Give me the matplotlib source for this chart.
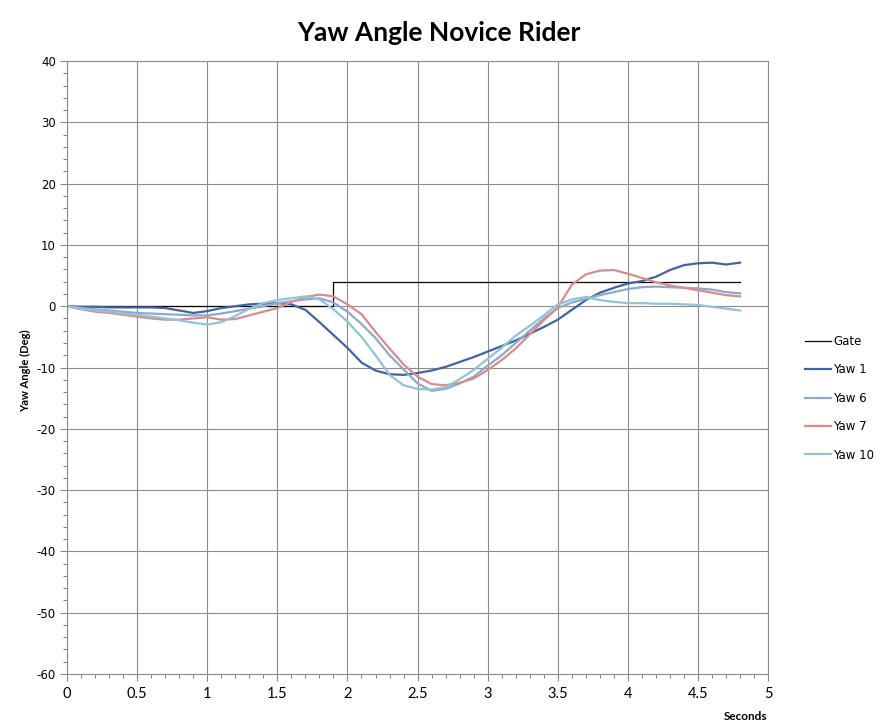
import matplotlib
matplotlib.use("Agg")
import matplotlib.pyplot as plt
import numpy as np
from matplotlib.ticker import MultipleLocator

t = [round(0.1 * i, 1) for i in range(49)]

yaw1 = [0, -0.1, -0.1, -0.2, -0.2, -0.2, -0.2, -0.3, -0.7, -1.1,
        -0.8, -0.3, 0.0, 0.3, 0.4, 0.5, 0.3, -0.6, -2.6, -4.7,
        -6.8, -9.2, -10.5, -11.1, -11.2, -10.9, -10.5, -9.9, -9.1, -8.3,
        -7.4, -6.5, -5.6, -4.5, -3.4, -2.2, -0.6, 1.0, 2.2, 3.0,
        3.7, 4.1, 4.8, 5.9, 6.7, 7.0, 7.1, 6.8, 7.1]

yaw6 = [0, -0.3, -0.5, -0.7, -0.9, -1.1, -1.2, -1.3, -1.4, -1.5,
        -1.5, -1.2, -0.8, -0.4, 0.0, 0.5, 0.8, 1.1, 1.3, 0.6,
        -0.9, -2.9, -5.2, -8.0, -10.3, -12.6, -13.8, -13.5, -12.6, -11.5,
        -9.7, -8.0, -6.0, -4.0, -2.0, -0.3, 0.6, 1.2, 1.8, 2.3,
        2.8, 3.1, 3.2, 3.1, 3.0, 2.9, 2.7, 2.3, 2.1]

yaw7 = [0, -0.5, -0.9, -1.1, -1.4, -1.7, -2.0, -2.2, -2.2, -2.0,
        -1.8, -2.2, -2.1, -1.5, -0.9, -0.3, 0.7, 1.5, 1.9, 1.6,
        0.3, -1.3, -4.2, -6.9, -9.5, -11.5, -12.7, -12.9, -12.5, -11.8,
        -10.4, -8.8, -6.9, -4.6, -2.3, -0.2, 3.5, 5.2, 5.8, 5.9,
        5.3, 4.6, 3.9, 3.4, 3.0, 2.6, 2.2, 1.8, 1.6]

yaw10 = [0, -0.4, -0.7, -0.9, -1.2, -1.4, -1.7, -2.0, -2.3, -2.7,
         -3.0, -2.6, -1.6, -0.4, 0.5, 1.0, 1.3, 1.6, 1.1, -0.5,
         -2.5, -5.0, -8.0, -11.2, -12.9, -13.5, -13.6, -13.2, -11.9, -10.4,
         -8.6, -6.8, -4.8, -3.2, -1.5, 0.3, 1.1, 1.5, 1.0, 0.7,
         0.5, 0.5, 0.4, 0.4, 0.3, 0.2, -0.1, -0.4, -0.7]

gate_t = [0, 1.9, 1.9, 4.8]
gate_v = [0, 0, 4, 4]

x_ticks = [0, 0.5, 1, 1.5, 2, 2.5, 3, 3.5, 4, 4.5, 5]
x_labels = ["0", "0.5", "1", "1.5", "2", "2.5", "3", "3.5", "4", "4.5", "5"]
y_ticks = [40, 30, 20, 10, 0, -10, -20, -30, -40, -50, -60]

fig = plt.figure(figsize=(8.88, 7.26), dpi=100)
ax = fig.add_axes([0.0755, 0.0716, 0.7895, 0.8444])

ax.plot(gate_t, gate_v, color="black", lw=0.9, label="Gate")
ax.plot(t, yaw1, color="#3E64A4", lw=1.6, label="Yaw 1")
ax.plot(t, yaw6, color="#8FA8CF", lw=1.6, label="Yaw 6")
ax.plot(t, yaw7, color="#D98C8A", lw=1.6, label="Yaw 7")
ax.plot(t, yaw10, color="#8FC4D8", lw=1.6, label="Yaw 10")

ax.set_xlim(0, 5)
ax.set_ylim(-60, 40)
ax.set_xticks(x_ticks)
ax.set_xticklabels(x_labels, fontfamily="Lato", fontsize=10.5)
ax.set_yticks(y_ticks)
ax.set_yticklabels([str(v) for v in y_ticks], fontfamily="DejaVu Sans", fontsize=8.5)
ax.xaxis.set_minor_locator(MultipleLocator(0.1))
ax.yaxis.set_minor_locator(MultipleLocator(2))
ax.tick_params(axis="both", which="major", direction="out", length=5, color="#888888", width=0.8, pad=4)
ax.tick_params(axis="y", which="major", pad=3)
ax.tick_params(axis="both", which="minor", direction="out", length=3, color="#888888", width=0.8)
ax.grid(True, which="major", color="#8c8c8c", lw=0.8)
ax.set_axisbelow(True)
for s in ax.spines.values():
    s.set_color("#8c8c8c")
    s.set_linewidth(0.8)

fig.text(0.494, 0.955, "Yaw Angle Novice Rider", ha="center", va="center",
         fontfamily="Lato", fontweight="bold", fontsize=19)
fig.text(0.029, 0.49, "Yaw Angle (Deg)", rotation=90, ha="center", va="center",
         fontfamily="Lato", fontweight="bold", fontsize=8)
fig.text(0.84, 0.013, "Seconds", ha="center", va="center",
         fontfamily="Lato", fontweight="bold", fontsize=8.5)

leg = fig.legend(loc="upper left", bbox_to_anchor=(0.895, 0.553), frameon=False,
                 handlelength=2.2, handletextpad=0.15, labelspacing=1.3,
                 prop={"family": "DejaVu Sans", "size": 8.5})

fig.savefig("out.png", dpi=100)
